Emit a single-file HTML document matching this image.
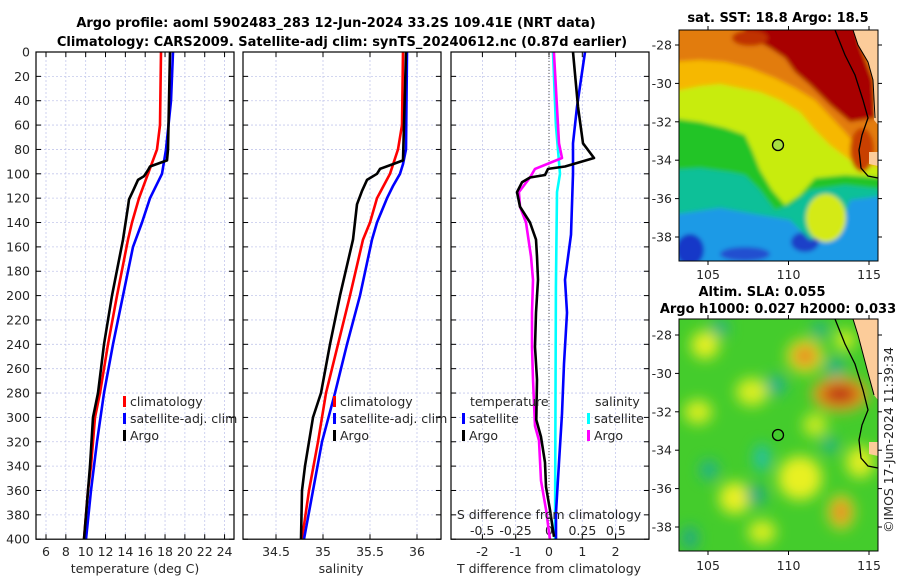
<!DOCTYPE html>
<html><head><meta charset="utf-8">
<style>
html,body{margin:0;padding:0;background:#fff;}
svg{display:block;font-family:"DejaVu Sans","Liberation Sans",sans-serif;}
.tk{font-size:12.5px;fill:#262626;}
.ttl{font-size:13px;font-weight:bold;fill:#000;}
</style></head>
<body>
<svg id="fig" width="900" height="580" viewBox="0 0 900 580">
<defs>
<filter id="bl3" x="-20%" y="-20%" width="140%" height="140%"><feGaussianBlur stdDeviation="2"/></filter>
<filter id="bl8" x="-50%" y="-50%" width="200%" height="200%"><feGaussianBlur stdDeviation="7"/></filter>
<clipPath id="cm1"><rect x="679" y="30" width="199" height="231"/></clipPath>
<clipPath id="cm2"><rect x="679" y="319" width="199" height="232"/></clipPath>
</defs>
<text class="ttl" x="336" y="27" text-anchor="middle">Argo profile: aoml 5902483_283 12-Jun-2024 33.2S 109.41E (NRT data)</text>
<text class="ttl" x="342" y="46" text-anchor="middle">Climatology: CARS2009. Satellite-adj clim: synTS_20240612.nc (0.87d earlier)</text>

<!-- SST map -->
<g>
<g clip-path="url(#cm1)">
<g filter="url(#bl3)">
<rect x="670" y="20" width="220" height="250" fill="#1e9ae6"/>
<ellipse cx="690" cy="250" rx="14" ry="16" fill="#1838c8"/>
<ellipse cx="745" cy="254" rx="25" ry="7" fill="#2050d0"/>
<ellipse cx="805" cy="242" rx="14" ry="10" fill="#1a40c8"/>
<polygon points="670,20 890,20 890,195 850,200 840,232 810,240 790,220 760,215 720,208 670,215" fill="#10c098"/>
<polygon points="670,20 890,20 890,190 845,185 810,190 790,205 775,210 760,190 745,175 730,172 700,168 670,170" fill="#22c428"/>
<polygon points="670,20 890,20 890,178 845,175 815,178 800,195 785,205 772,190 760,170 752,150 745,135 725,128 700,122 670,118" fill="#c8ec10"/>
<ellipse cx="826" cy="218" rx="20" ry="24" fill="#d4ea18"/>
<polygon points="670,20 890,20 890,170 850,160 830,145 815,130 800,112 780,100 760,92 740,88 720,84 700,86 670,92" fill="#f6b800"/>
<polygon points="670,20 890,20 890,160 860,150 845,132 830,116 815,100 795,88 775,78 750,68 725,62 700,60 670,62" fill="#e27c08"/>
<polygon points="790,20 855,20 860,45 873,80 875,118 850,122 830,105 810,85 795,72 785,58 770,48 755,40 745,30 740,20" fill="#a80000"/>
<ellipse cx="750" cy="38" rx="18" ry="8" fill="#c03000"/>
<ellipse cx="862" cy="150" rx="12" ry="22" fill="#c84000"/>
</g>
<polygon points="853,30 878,30 878,125 874,120 873,80 868,62 858,45" fill="#fccc9a"/>
<polygon points="869,152 878,152 878,166 869,164" fill="#fccc9a"/>
<polyline points="835,30 845,55 855,75 863,100 868,118 862,135 859,150 861,168 868,176 878,178" fill="none" stroke="#000" stroke-width="1.3"/>
<polyline points="853,30 858,45 868,62 873,80 875,118" fill="none" stroke="#000" stroke-width="1"/>
<circle cx="778" cy="145" r="5.5" fill="#a8e040" stroke="#000" stroke-width="1.3"/>
</g>
<rect x="679" y="30" width="199" height="231" fill="none" stroke="#000" stroke-width="1"/>
<text class="ttl" x="778" y="22" text-anchor="middle">sat. SST: 18.8 Argo: 18.5</text>
</g>

<!-- SLA map -->
<g>
<g clip-path="url(#cm2)">
<rect x="670" y="310" width="220" height="250" fill="#44cc2c"/>
<g filter="url(#bl8)">
<ellipse cx="705" cy="345" rx="14" ry="14" fill="#e6f020"/>
<ellipse cx="698" cy="412" rx="14" ry="12" fill="#d8ee20"/>
<ellipse cx="752" cy="392" rx="16" ry="14" fill="#d8ee20"/>
<ellipse cx="735" cy="498" rx="16" ry="16" fill="#eaf020"/>
<ellipse cx="762" cy="532" rx="14" ry="12" fill="#d8ee20"/>
<ellipse cx="800" cy="478" rx="22" ry="22" fill="#e8f020"/>
<ellipse cx="860" cy="462" rx="14" ry="16" fill="#e0ee20"/>
<ellipse cx="815" cy="425" rx="12" ry="12" fill="#c8ea20"/>
<ellipse cx="845" cy="340" rx="10" ry="10" fill="#d8ee20"/>
<ellipse cx="805" cy="356" rx="18" ry="17" fill="#eee020"/>
<ellipse cx="805" cy="356" rx="11" ry="10" fill="#e28020"/>
<ellipse cx="840" cy="394" rx="28" ry="17" fill="#f0a020"/>
<ellipse cx="840" cy="394" rx="18" ry="9" fill="#b81010"/>
<ellipse cx="841" cy="512" rx="13" ry="17" fill="#f0d020"/>
<ellipse cx="841" cy="512" rx="7" ry="10" fill="#e07020"/>
<ellipse cx="835" cy="367" rx="10" ry="10" fill="#20b088"/>
<ellipse cx="762" cy="458" rx="8" ry="14" fill="#20c0a8"/>
<ellipse cx="756" cy="495" rx="10" ry="10" fill="#20a888"/>
<ellipse cx="709" cy="470" rx="9" ry="10" fill="#20b090"/>
<ellipse cx="776" cy="385" rx="10" ry="10" fill="#20b090"/>
<ellipse cx="830" cy="445" rx="8" ry="8" fill="#20b090"/>
<ellipse cx="690" cy="538" rx="8" ry="12" fill="#20a888"/>
<ellipse cx="720" cy="328" rx="9" ry="8" fill="#20b090"/>
<ellipse cx="820" cy="330" rx="8" ry="8" fill="#20b090"/>
</g>
<polygon points="853,319 878,319 878,400 874,395 868,373 858,335" fill="#fccc9a"/>
<polygon points="869,442 878,442 878,456 869,454" fill="#fccc9a"/>
<polyline points="835,319 845,344 855,364 863,390 868,410 862,425 859,440 861,458 868,466 878,468" fill="none" stroke="#000" stroke-width="1.3"/>
<polyline points="853,319 858,335 868,373 874,395" fill="none" stroke="#000" stroke-width="1"/>
<circle cx="778" cy="435" r="5.5" fill="none" stroke="#000" stroke-width="1.3"/>
</g>
<rect x="679" y="319" width="199" height="232" fill="none" stroke="#000" stroke-width="1"/>
<text class="ttl" x="762" y="296" text-anchor="middle">Altim. SLA: 0.055</text>
<text class="ttl" x="778" y="313" text-anchor="middle">Argo h1000: 0.027 h2000: 0.033</text>
</g>
<text class="tk" x="0" y="0" transform="translate(893,440) rotate(-90)" text-anchor="middle">©IMOS 17-Jun-2024 11:39:34</text>
<g id="dyn"></g>
</svg>
<script>
// ---- data ----
var depthTicks = [0,20,40,60,80,100,120,140,160,180,200,220,240,260,280,300,320,340,360,380,400];
var tempTicks = [6,8,10,12,14,16,18,20,22,24];
var salTicks = [34.5,35,35.5,36];
var sdiffTicks = [-0.5,-0.25,0,0.25,0.5];
var sdiffLabels = ["-0.5","-0.25","0","0.25","0.5"];
var tdiffTicks = [-2,-1,0,1,2];

var tClimDepth = [0,60,80,100,120,140,154,200,240,280,300,340,360,400];
var tClim = [17.59,17.49,17.19,16.28,15.38,14.67,14.27,13.16,12.25,11.44,10.94,10.54,10.23,9.83];
var tSatDepth = [0,40,80,100,120,140,160,200,240,280,320,360,400];
var tSat = [18.8,18.6,18.1,17.69,16.48,15.68,14.77,13.76,12.75,11.85,11.14,10.54,10.03];
var tArgoDepth = [0,80,89,94,97,102,105,114,121,127,154,200,240,280,300,340,360,400];
var tArgo = [18.5,18.3,18.2,16.48,16.28,15.88,15.27,14.77,14.37,14.27,13.76,12.65,11.85,11.24,10.74,10.44,10.23,9.83];

var sClimDepth = [0,60,80,100,120,140,154,200,240,280,320,360,400];
var sClim = [35.851,35.84,35.798,35.713,35.574,35.5,35.426,35.287,35.16,35.032,34.947,34.851,34.777];
var sSatDepth = [0,80,92,100,110,120,140,154,200,240,280,320,360,400];
var sSat = [35.894,35.883,35.851,35.819,35.745,35.681,35.574,35.521,35.394,35.255,35.128,34.989,34.894,34.798];
var sArgoDepth = [0,89,92,96,100,105,114,125,154,200,240,280,300,340,360,400];
var sArgo = [35.883,35.851,35.745,35.606,35.574,35.468,35.415,35.362,35.319,35.181,35.074,34.979,34.894,34.809,34.777,34.766];

var dtSatDepth = [0,45,75,100,150,187,214,256,297,337,378,400];
var dtSat = [1.08,0.84,0.72,0.72,0.66,0.48,0.54,0.45,0.39,0.30,0.21,0.21];
var dtArgoDepth = [0,45,75,87,94,96,101,103,107,115,127,140,154,168,187,214,242,269,302,316,337,357,376,398];
var dtArgo = [0.72,0.87,1.02,1.35,0.48,-0.03,-0.12,-0.57,-0.81,-0.96,-0.87,-0.57,-0.39,-0.36,-0.33,-0.39,-0.42,-0.36,-0.38,-0.24,-0.12,-0.09,0.03,0.15];
var dsSatDepth = [0,60,100,115,193,400];
var dsSat = [0.03,0.052,0.082,0.06,0.052,0.045];
var dsArgoDepth = [0,75,87,96,103,115,127,140,168,187,214,242,269,307,319,352,376,400];
var dsArgo = [0.037,0.075,0.097,-0.105,-0.142,-0.225,-0.217,-0.172,-0.135,-0.12,-0.127,-0.127,-0.12,-0.105,-0.075,-0.06,-0.022,0.007];

var latTicks = [-28,-30,-32,-34,-36,-38];
var lonTicks = [105,110,115];

// ---- axes ----
var Y0 = 52, YS = 1.218;
function yD(d){ return Y0 + d*YS; }
function xT(t){ return 46 + (t-6)*9.92; }
function xS(s){ return 323 + (s-35)*94; }
function xDT(t){ return 549 + t*33.3; }
function xDS(s){ return 549 + s*133.6; }
function xLon(l){ return 708 + (l-105)*16.1; }
function yLat1(l){ return 45 + (-28-l)*19.2; }
function yLat2(l){ return 335 + (-28-l)*19.2; }

var NS = "http://www.w3.org/2000/svg";
var root = document.getElementById('dyn');
function mk(tag, attrs, parent){
  var e = document.createElementNS(NS, tag);
  for (var k in attrs) e.setAttribute(k, attrs[k]);
  (parent||root).appendChild(e);
  return e;
}
var panels = [
  {x0:36, x1:234, name:'temperature-panel'},
  {x0:243, x1:441, name:'salinity-panel'},
  {x0:451, x1:649, name:'difference-panel'}
];
var Ybot = yD(400);

panels.forEach(function(p, pi){
  var g = mk('g', {});
  
  
  var xt = pi==0 ? tempTicks.map(xT) : (pi==1 ? salTicks.map(xS) : tdiffTicks.map(xDT));
  depthTicks.forEach(function(d){
    if (d>0 && d<400) mk('line', {x1:p.x0, x2:p.x1, y1:yD(d), y2:yD(d), stroke:'#c4c8ec', 'stroke-width':0.8, 'stroke-dasharray':'2,2'}, g);
  });
  xt.forEach(function(x){
    mk('line', {x1:x, x2:x, y1:Y0, y2:Ybot, stroke:'#c4c8ec', 'stroke-width':0.8, 'stroke-dasharray':'2,2'}, g);
    mk('line', {x1:x, x2:x, y1:Y0, y2:Y0+5, stroke:'#000', 'stroke-width':1}, g);
    mk('line', {x1:x, x2:x, y1:Ybot, y2:Ybot-5, stroke:'#000', 'stroke-width':1}, g);
  });
  depthTicks.forEach(function(d){
    mk('line', {x1:p.x0, x2:p.x0+5, y1:yD(d), y2:yD(d), stroke:'#000', 'stroke-width':1}, g);
    mk('line', {x1:p.x1, x2:p.x1-5, y1:yD(d), y2:yD(d), stroke:'#000', 'stroke-width':1}, g);
  });
});

depthTicks.forEach(function(d){
  var t = mk('text', {x:30, y:yD(d)+4.5, 'text-anchor':'end', 'class':'tk'});
  t.textContent = d;
  
  
});
tempTicks.forEach(function(v){
  var t = mk('text', {x:xT(v), y:556, 'text-anchor':'middle', 'class':'tk'});
  t.textContent = v;
  
  
});
salTicks.forEach(function(v){
  var t = mk('text', {x:xS(v), y:556, 'text-anchor':'middle', 'class':'tk'});
  t.textContent = v;
  
  
});
tdiffTicks.forEach(function(v){
  var t = mk('text', {x:xDT(v), y:556, 'text-anchor':'middle', 'class':'tk'});
  t.textContent = v;
  
  
});
sdiffTicks.forEach(function(v, i){
  var t = mk('text', {x:xDS(v), y:535, 'text-anchor':'middle', 'class':'tk'});
  t.textContent = sdiffLabels[i];
  
  
});

var zl = mk('line', {x1:xDT(0), x2:xDT(0), y1:Y0, y2:Ybot, stroke:'#555', 'stroke-width':1, 'stroke-dasharray':'1,2'});



function series(depths, vals, xf, color, name){
  var pts = depths.map(function(d, i){ return xf(vals[i]).toFixed(1)+','+yD(d).toFixed(1); }).join(' ');
  var pl = mk('polyline', {points:pts, fill:'none', stroke:color, 'stroke-width':2.6, 'stroke-linejoin':'round'});
  
  
}
series(tClimDepth, tClim, xT, '#ff0000', 'temperature-climatology-line');
series(tSatDepth, tSat, xT, '#0000ff', 'temperature-satellite-line');
series(tArgoDepth, tArgo, xT, '#000000', 'temperature-argo-line');
series(sClimDepth, sClim, xS, '#ff0000', 'salinity-climatology-line');
series(sSatDepth, sSat, xS, '#0000ff', 'salinity-satellite-line');
series(sArgoDepth, sArgo, xS, '#000000', 'salinity-argo-line');
series(dsSatDepth, dsSat, xDS, '#00ffff', 's-diff-satellite-line');
series(dsArgoDepth, dsArgo, xDS, '#ff00ff', 's-diff-argo-line');
series(dtSatDepth, dtSat, xDT, '#0000ff', 't-diff-satellite-line');
series(dtArgoDepth, dtArgo, xDT, '#000000', 't-diff-argo-line');

panels.forEach(function(p){
  var r = mk('rect', {x:p.x0, y:Y0, width:p.x1-p.x0, height:Ybot-Y0, fill:'none', stroke:'#000', 'stroke-width':1.2});
  
  
});

function legEntry(x, y, color, label, name){
  var m = mk('rect', {x:x, y:y-10, width:3, height:11, fill:color});
  
  
  var t = mk('text', {x:x+7, y:y, 'class':'tk'});
  t.textContent = label;
  
  
}
legEntry(123, 406, '#ff0000', 'climatology', 'legend-climatology-temp');
legEntry(123, 423, '#0000ff', 'satellite-adj. clim', 'legend-satellite-temp');
legEntry(123, 440, '#000000', 'Argo', 'legend-argo-temp');
legEntry(333, 406, '#ff0000', 'climatology', 'legend-climatology-sal');
legEntry(333, 423, '#0000ff', 'satellite-adj. clim', 'legend-satellite-sal');
legEntry(333, 440, '#000000', 'Argo', 'legend-argo-sal');
var lt = mk('text', {x:470, y:406, 'class':'tk'}); lt.textContent = 'temperature';


var ls = mk('text', {x:595, y:406, 'class':'tk'}); ls.textContent = 'salinity';


legEntry(462, 423, '#0000ff', 'satellite', 'legend-t-diff-satellite');
legEntry(462, 440, '#000000', 'Argo', 'legend-t-diff-argo');
legEntry(587, 423, '#00ffff', 'satellite', 'legend-s-diff-satellite');
legEntry(587, 440, '#ff00ff', 'Argo', 'legend-s-diff-argo');

function atitle(x, y, s, name){
  var t = mk('text', {x:x, y:y, 'text-anchor':'middle', 'class':'tk', 'font-size':'13px'});
  t.textContent = s;
  
  
}
atitle(135, 573, 'temperature (deg C)', 'temperature-axis-title');
atitle(341, 573, 'salinity', 'salinity-axis-title');
atitle(549, 573, 'T difference from climatology', 't-diff-axis-title');
atitle(549, 519, 'S difference from climatology', 's-diff-axis-title');

[ {yf:yLat1, top:30, bot:261, lab:275}, {yf:yLat2, top:319, bot:551, lab:566} ].forEach(function(m, mi){
  latTicks.forEach(function(l){
    var y = m.yf(l);
    mk('line', {x1:679, x2:675, y1:y, y2:y, stroke:'#000'});
    mk('line', {x1:878, x2:882, y1:y, y2:y, stroke:'#000'});
    var t = mk('text', {x:672, y:y+4.5, 'text-anchor':'end', 'class':'tk'});
    t.textContent = l;
    
    
  });
  lonTicks.forEach(function(l){
    var x = xLon(l);
    mk('line', {x1:x, x2:x, y1:m.bot, y2:m.bot+4, stroke:'#000'});
    mk('line', {x1:x, x2:x, y1:m.top, y2:m.top-4, stroke:'#000'});
    var t = mk('text', {x:x, y:m.lab+4, 'text-anchor':'middle', 'class':'tk'});
    t.textContent = l;
    
    
  });
});
</script>
</body></html>
